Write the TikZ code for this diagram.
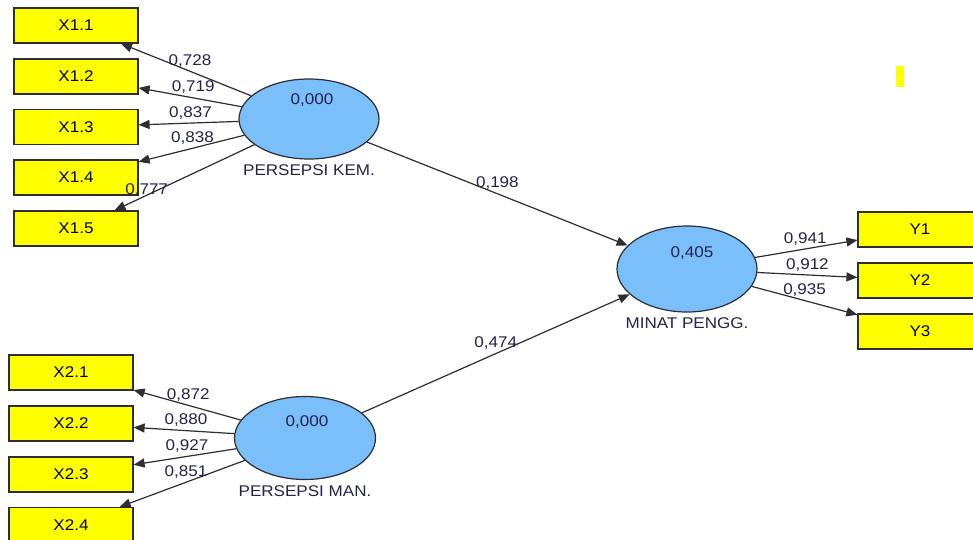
\documentclass[tikz,border=0pt]{standalone}
\usepackage{fontspec}
\setmainfont{Liberation Sans}[FakeStretch=1.1]
\usetikzlibrary{shapes.geometric, arrows.meta}
\definecolor{boxyellow}{RGB}{255,255,0}
\definecolor{lvblue}{RGB}{122,190,250}
\definecolor{edgegray}{RGB}{45,45,50}
\definecolor{txtnavy}{RGB}{35,35,75}
\tikzset{
	tri/.tip={Triangle[length=11pt,width=9pt]},
	% indicator boxes and latent variables
	indicator/.style={draw=edgegray, line width=1.2pt, fill=boxyellow, minimum width=124pt, minimum height=35pt, inner sep=0pt, font=\fontsize{15.5}{18}\selectfont},
	latent/.style={ellipse, draw=edgegray, line width=1.2pt, fill=lvblue, minimum width=140pt, minimum height=80pt, inner sep=0pt},
	lvtext/.style={text=txtnavy, font=\fontsize{15.5}{18}\selectfont},
	weight/.style={text=txtnavy, font=\fontsize{15.5}{18}\selectfont},
	link/.style={-tri, draw=edgegray, line width=1.2pt}
}
\begin{document}
\begin{tikzpicture}[x=1pt, y=-1pt]
	\clip (0,0) rectangle (973,539);
	
	% Indicators
	\foreach \i/\yy in {1/25.5, 2/76.5, 3/127, 4/177.5, 5/228.5}{\node[indicator] (x1\i) at (76,\yy) {X1.\i};}
	\foreach \i/\yy in {1/372.5, 2/423.5, 3/474.5, 4/525}{\node[indicator] (x2\i) at (71,\yy) {X2.\i};}
	\foreach \i/\yy in {1/229.5, 2/280.5, 3/331.5}{\node[indicator] (y\i) at (920,\yy) {Y\i};}
	
	% Latent variables
	\node[latent] (kem) at (309,119) {};
	\node[latent, minimum width=141pt, minimum height=83pt] (man) at (305,438) {};
	\node[latent, minimum height=86pt] (minat) at (687,269) {};
	\node[lvtext] (kemv) at ([xshift=3pt, yshift=19pt]kem.center) {0,000};
	\node[lvtext] (manv) at ([xshift=2pt, yshift=16pt]man.center) {0,000};
	\node[lvtext] (minatv) at ([xshift=5pt, yshift=16pt]minat.center) {0,405};
	\node[lvtext, below=2pt] (kemn) at (kem.south) {PERSEPSI KEM.};
	\node[lvtext, below=2pt] (mann) at (man.south) {PERSEPSI MAN.};
	\node[lvtext, below=2pt] (minatn) at (minat.south) {MINAT PENGG.};
	
	% Outer loadings
	\draw[link] (kem) -- (x11) node[weight, pos=0.47, above]{0,728};
	\draw[link] (kem) -- (x12) node[weight, pos=0.47, above]{0,719};
	\draw[link] (kem) -- (x13) node[weight, pos=0.48, above]{0,837};
	\draw[link] (kem) -- (x14) node[weight, pos=0.49, above]{0,838};
	\draw[link] (kem) -- (x15) node[weight, pos=0.77, yshift=5pt]{0,777};
	
	\draw[link] (man) -- (x21) node[weight, pos=0.49, above]{0,872};
	\draw[link] (man) -- (x22) node[weight, pos=0.48, above]{0,880};
	\draw[link] (man) -- (x23) node[weight, pos=0.48, above]{0,927};
	\draw[link] (man) -- (x24) node[weight, pos=0.47, above]{0,851};
	
	\draw[link] (minat) -- (y1) node[weight, pos=0.49, above]{0,941};
	\draw[link] (minat) -- (y2) node[weight, pos=0.5, above]{0,912};
	\draw[link] (minat) -- (y3) node[weight, pos=0.5, above]{0,935};
	
	% Path coefficients
	\draw[link] (kem) -- (minat) node[weight, pos=0.5, above]{0,198};
	\draw[link] (man) -- (minat) node[weight, pos=0.5, above]{0,474};
	
	\fill[boxyellow] (896,66) rectangle (904,87);
\end{tikzpicture}
\end{document}
